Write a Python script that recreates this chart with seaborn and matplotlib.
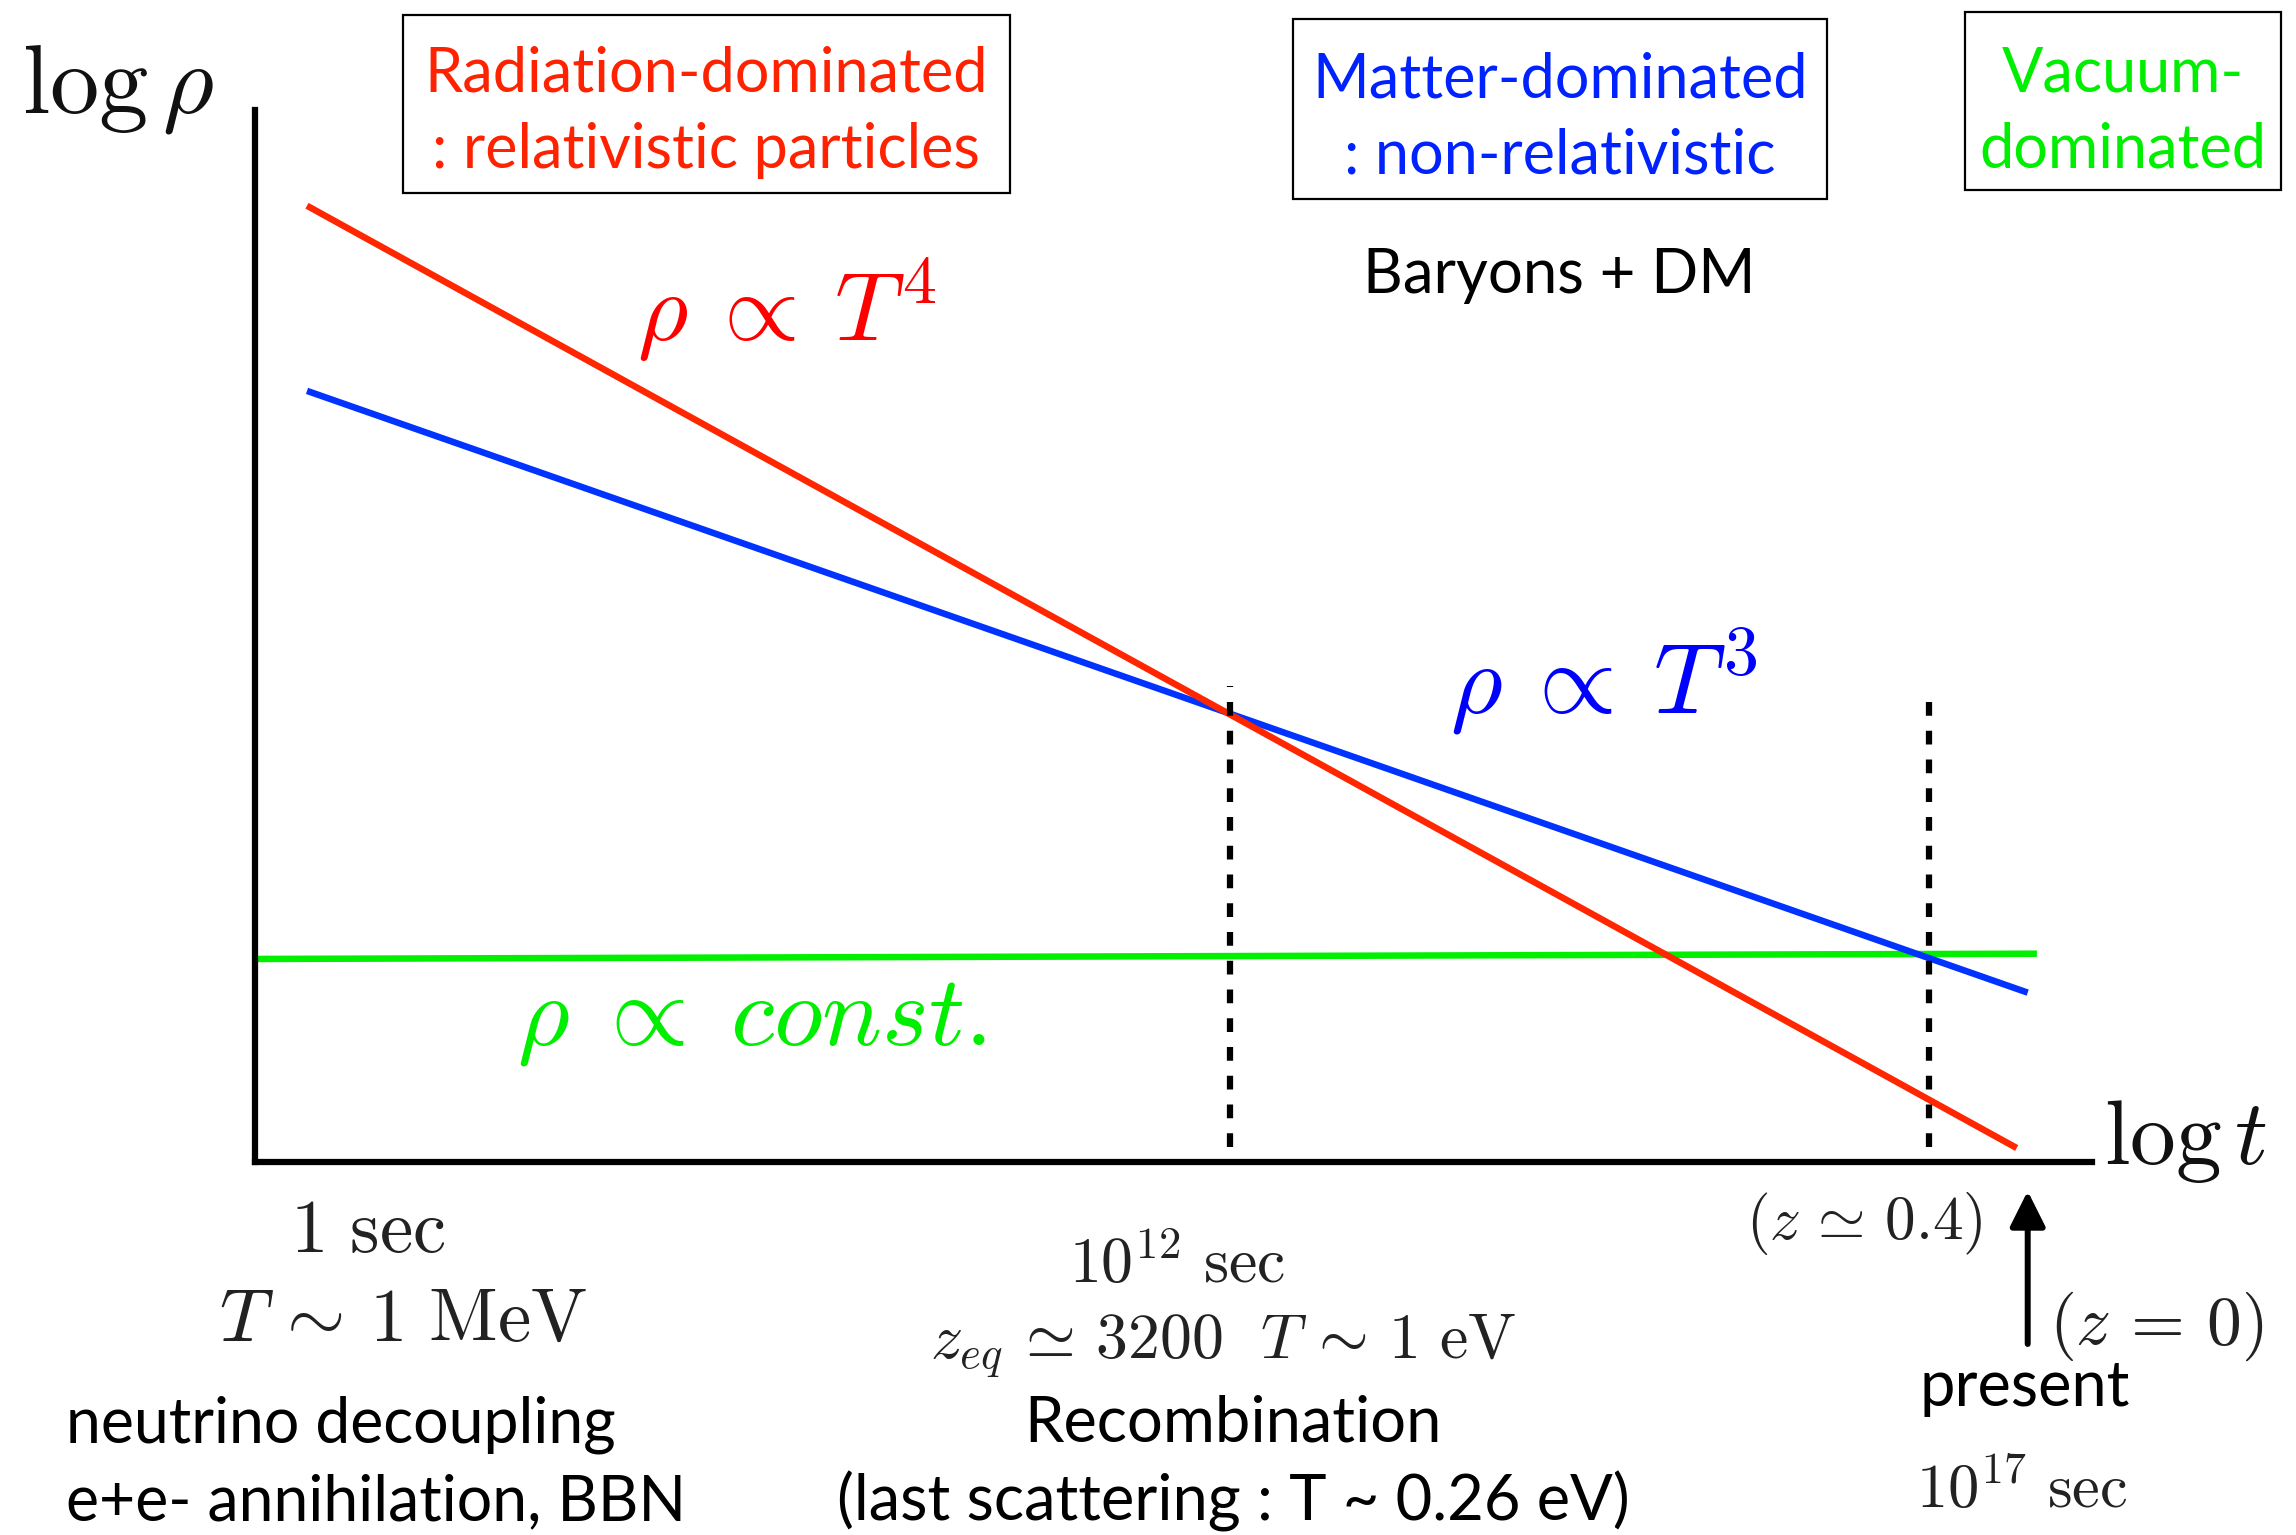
import matplotlib
matplotlib.use("Agg")
import matplotlib.pyplot as plt
from matplotlib.patches import Rectangle, ArrowStyle
import pandas as pd
import seaborn as sns

# Schematic energy density of the universe vs. time (arbitrary log units)
component = ["vacuum", "vacuum", "matter", "matter", "radiation", "radiation"]
log_t = [0.0, 97.0, 2.83, 96.5, 2.83, 95.9]
log_rho = [19.3, 19.8, 73.3, 16.1, 90.9, 1.33]

# Epoch markers: matter-radiation equality and matter-vacuum equality
epoch_t = [53.1, 91.1]
epoch_top = [45.2, 45.0]
epoch_bottom = 1.4

# Present day (arrow under the time axis)
present_t = 96.5

palette = {"radiation": "#ff2600", "matter": "#0033ff", "vacuum": "#00f000"}

sns.set_theme(style="white")
plt.rcParams["font.family"] = ["Lato", "DejaVu Sans"]
plt.rcParams["mathtext.fontset"] = "cm"

W, H = 2296, 1535
fig = plt.figure(figsize=(W / 100, H / 100), dpi=100)
fig.patch.set_facecolor("white")

# main axes in pixel layout: left 255, right 2092, top 110, bottom 1162
L, R, T, B = 255, 2092, 110, 1162
ax = fig.add_axes([L / W, 1 - B / H, (R - L) / W, (B - T) / H])
ax.set_xlim(0, 100)
ax.set_ylim(0, 100)
ax.set_facecolor("none")

df = pd.DataFrame({"component": component, "log_t": log_t, "log_rho": log_rho})
sns.lineplot(data=df, x="log_t", y="log_rho", hue="component",
             hue_order=["vacuum", "matter", "radiation"], palette=palette,
             estimator=None, sort=False, linewidth=4.7, legend=False, ax=ax,
             solid_capstyle="butt")
for ln in ax.lines:
    ln.set_clip_on(False)

ax.vlines(epoch_t, epoch_bottom, epoch_top, colors="black", linewidth=4.5,
          linestyles=[(0, (2.2, 2.4))])

for side in ["top", "right"]:
    ax.spines[side].set_visible(False)
for side in ["left", "bottom"]:
    ax.spines[side].set_color("black")
    ax.spines[side].set_linewidth(4.5)
ax.set_xticks([])
ax.set_yticks([])
ax.set_xlabel("")
ax.set_ylabel("")

ax.annotate("", xy=(present_t, -2.76), xytext=(present_t, -17.3),
            xycoords="data", textcoords="data", annotation_clip=False,
            arrowprops=dict(arrowstyle=ArrowStyle("-|>", head_length=1.0, head_width=0.5),
                            mutation_scale=21.6, lw=4.3, color="black",
                            shrinkA=0, shrinkB=0))

# overlay in pixel coordinates for labels and boxes
ov = fig.add_axes([0, 0, 1, 1])
ov.set_xlim(0, W)
ov.set_ylim(H, 0)
ov.axis("off")
ov.set_facecolor("none")

def box(x0, y0, x1, y1):
    ov.add_patch(Rectangle((x0, y0), x1 - x0, y1 - y0, fill=False,
                           edgecolor="black", linewidth=1.6))

red_txt, blue_txt, green_txt = "#ff2200", "#0022ff", "#00ee00"

box(403, 15, 1010, 193)
ov.text(706, 92, "Radiation-dominated", color=red_txt, fontsize=44, ha="center", va="baseline")
ov.text(706, 168, ": relativistic particles", color=red_txt, fontsize=44, ha="center", va="baseline")

box(1293, 19, 1827, 199)
ov.text(1560, 97, "Matter-dominated", color=blue_txt, fontsize=44, ha="center", va="baseline")
ov.text(1560, 174, ": non-relativistic", color=blue_txt, fontsize=44, ha="center", va="baseline")

box(1965, 12, 2281, 190)
ov.text(2123, 91, "Vacuum-", color=green_txt, fontsize=44, ha="center", va="baseline")
ov.text(2123, 168, "dominated", color=green_txt, fontsize=44, ha="center", va="baseline")

ov.text(1559, 293, "Baryons + DM", color="black", fontsize=44.5, ha="center", va="baseline")

# axis labels
ov.text(22, 113, r"$\log\rho$", fontsize=71, color="#111111", ha="left", va="baseline")
ov.text(2104, 1164, r"$\log t$", fontsize=66, color="#111111", ha="left", va="baseline")

# scaling laws
ov.text(637, 341, r"$\rho\:\propto\:T^4$", fontsize=70, color="#ff0000", ha="left", va="baseline")
ov.text(1450, 713, r"$\rho\:\propto\:T^3$", fontsize=72, color="#0000ff", ha="left", va="baseline")
ov.text(517, 1044, r"$\rho\;\propto\;const.$", fontsize=72, color="#00ee00", ha="left", va="baseline")

# epochs below the time axis
ov.text(368, 1252, r"$1\ \mathrm{sec}$", fontsize=54, color="#222222", ha="center", va="baseline")
ov.text(403, 1341, r"$T\,\sim\,1\ \mathrm{MeV}$", fontsize=54, color="#222222", ha="center", va="baseline")
ov.text(66, 1442, "neutrino decoupling", fontsize=45, color="black", ha="left", va="baseline")
ov.text(66, 1520, "e+e- annihilation, BBN", fontsize=45, color="black", ha="left", va="baseline")

ov.text(1177, 1283, r"$10^{12}\ \mathrm{sec}$", fontsize=46, color="#222222", ha="center", va="baseline")
ov.text(1223, 1359, r"$z_{eq}\,\simeq\,3200\ \ T\,\sim\,1\ \mathrm{eV}$", fontsize=46, color="#222222",
        ha="center", va="baseline")
ov.text(1233, 1442, "Recombination", fontsize=45.5, color="black", ha="center", va="baseline")
ov.text(1233, 1520, "(last scattering : T ~ 0.26 eV)", fontsize=45.5, color="black", ha="center", va="baseline")

ov.text(1864, 1239, r"$(z\,\simeq\,0.4)$", fontsize=44, color="#222222", ha="center", va="baseline")
ov.text(2156, 1344, r"$(z\,=\,0)$", fontsize=50, color="#222222", ha="center", va="baseline")
ov.text(2025, 1406, "present", fontsize=45.5, color="black", ha="center", va="baseline")
ov.text(2022, 1508, r"$10^{17}\ \mathrm{sec}$", fontsize=45, color="#222222", ha="center", va="baseline")

fig.savefig("out.png", dpi=100, facecolor="white")
